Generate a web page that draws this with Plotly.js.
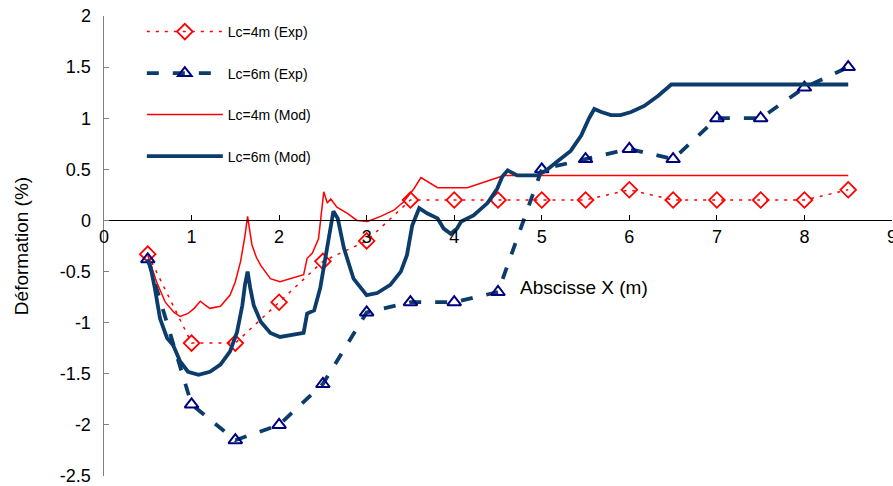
<!DOCTYPE html>
<html>
<head>
<meta charset="utf-8">
<script src="https://cdn.plot.ly/plotly-3.0.1.min.js"></script>
<style>html,body{margin:0;padding:0;background:#fff;}#chart{width:893px;height:486px;}</style>
</head>
<body>
<div id="chart"></div>
<script>
// Experimental abscissae
const xExp = [0.5,1,1.5,2,2.5,3,3.5,4,4.5,5,5.5,6,6.5,7,7.5,8,8.5];
const yExp4 = [-0.33,-1.2,-1.2,-0.8,-0.4,-0.2,0.2,0.2,0.2,0.2,0.2,0.3,0.2,0.2,0.2,0.2,0.3];
const yExp6 = [-0.38,-1.8,-2.15,-2.0,-1.6,-0.9,-0.8,-0.8,-0.7,0.5,0.6,0.7,0.6,1.0,1.0,1.3,1.5];

// Model Lc=4m
const xMod4 = [0.5,0.6,0.7,0.8,0.87,0.96,1.03,1.1,1.16,1.21,1.33,1.44,1.5,1.56,1.61,1.64,1.69,1.74,1.79,1.9,2.01,2.13,2.28,2.32,2.38,2.45,2.49,2.51,2.55,2.59,2.66,2.78,2.89,3.01,3.16,3.31,3.42,3.54,3.62,3.7,3.81,4.15,4.3,4.5,4.57,5,6,7,8,8.5];
const yMod4 = [-0.34,-0.6,-0.8,-0.9,-0.94,-0.91,-0.86,-0.79,-0.83,-0.86,-0.84,-0.73,-0.6,-0.4,-0.15,0.04,-0.24,-0.36,-0.44,-0.57,-0.6,-0.57,-0.53,-0.37,-0.32,-0.18,0.09,0.28,0.17,0.21,0.13,0.07,0.0,-0.01,0.04,0.1,0.18,0.31,0.42,0.38,0.32,0.32,0.36,0.42,0.44,0.44,0.44,0.44,0.44,0.44];

// Model Lc=6m
const xMod6 = [0.5,0.53,0.58,0.64,0.72,0.79,0.87,0.96,1.08,1.21,1.33,1.44,1.52,1.58,1.61,1.64,1.67,1.71,1.79,1.9,2.01,2.28,2.32,2.4,2.47,2.55,2.62,2.67,2.74,2.85,3.0,3.12,3.27,3.39,3.46,3.52,3.6,3.69,3.81,3.88,3.96,4.03,4.08,4.22,4.38,4.49,4.55,4.61,4.72,4.95,5.05,5.18,5.33,5.45,5.54,5.6,5.68,5.79,5.9,6.02,6.17,6.33,6.48,7,8,8.5];
const yMod6 = [-0.38,-0.45,-0.66,-0.96,-1.15,-1.22,-1.38,-1.48,-1.51,-1.48,-1.41,-1.28,-1.09,-0.83,-0.63,-0.5,-0.66,-0.83,-0.99,-1.1,-1.14,-1.1,-0.91,-0.88,-0.66,-0.24,0.09,0.02,-0.27,-0.57,-0.73,-0.71,-0.63,-0.5,-0.34,-0.05,0.12,0.07,0.02,-0.08,-0.13,-0.08,-0.01,0.05,0.17,0.31,0.43,0.49,0.44,0.44,0.49,0.58,0.68,0.83,1.0,1.09,1.06,1.03,1.03,1.06,1.12,1.22,1.33,1.33,1.33,1.33];

const xTickVals = [0,1,2,3,4,5,6,7,8,9];
const xTickText = ['0','1','2','3','4','5','6','7','8','9'];
const yTickVals = [2,1.5,1,0.5,0,-0.5,-1,-1.5,-2,-2.5];
const yTickText = ['2','1.5','1','0.5','0','-0.5','-1','-1.5','-2','-2.5'];
const seriesNames = ['Lc=4m (Exp)','Lc=6m (Exp)','Lc=4m (Mod)','Lc=6m (Mod)'];

const xRange = [0,9];
const yRange = [-2.5,2];
const RED = '#FF0000', NAVY = '#0B3C6B', MNAVY = '#000080';
const FONT = 'Liberation Sans, Arial, sans-serif';

const traces = [
  {x:xExp, y:yExp4, name:seriesNames[0], legendgroup:'a', mode:'lines+markers',
   line:{color:RED, width:1.5, dash:'3px,6px'},
   marker:{symbol:'diamond-open', size:12, color:RED, line:{width:1.8, color:RED}}},
  {x:xExp, y:yExp6, name:seriesNames[1], legendgroup:'b', mode:'lines+markers',
   line:{color:NAVY, width:3.8, dash:'12px,14px'},
   marker:{symbol:'triangle-up-open', size:12, color:MNAVY, line:{width:2, color:MNAVY}}},
  {x:xMod4, y:yMod4, name:seriesNames[2], legendgroup:'c', mode:'lines',
   line:{color:RED, width:1.5}},
  {x:xMod6, y:yMod6, name:seriesNames[3], legendgroup:'d', mode:'lines',
   line:{color:NAVY, width:3.8}}
];

const layout = {
  width:893, height:486,
  margin:{l:104, r:1, t:16, b:10},
  paper_bgcolor:'#fff', plot_bgcolor:'#fff',
  font:{family:FONT, size:18, color:'#000'},
  showlegend:true,
  legend:{x:0.048, y:1.0, xanchor:'left', yanchor:'top', bgcolor:'rgba(0,0,0,0)',
          font:{family:FONT, size:14}, tracegroupgap:20.3, itemwidth:76},
  xaxis:{range:xRange, tickvals:xTickVals, ticktext:xTickText, showgrid:false, zeroline:false,
         anchor:'free', position:(0-yRange[0])/(yRange[1]-yRange[0]),
         showline:true, linecolor:'#000', linewidth:1, ticks:'inside', ticklen:5, tickcolor:'#000',
         tickfont:{size:18}, ticklabeloverflow:'allow'},
  yaxis:{range:yRange, tickvals:yTickVals, ticktext:yTickText, showgrid:false, zeroline:false,
         showline:true, linecolor:'#808080', linewidth:1.5, ticks:'inside', ticklen:5, tickcolor:'#808080',
         tickfont:{size:18}, ticklabelstandoff:8, ticklabeloverflow:'allow',
         title:{text:'Déformation (%)', font:{size:19}, standoff:26}},
  annotations:[{text:'Abscisse X (m)', xref:'paper', yref:'paper', x:(650-104)/788, y:(476-288)/460,
                showarrow:false, font:{size:19}}]
};

Plotly.newPlot('chart', traces, layout, {displayModeBar:false, staticPlot:true});
</script>
</body>
</html>
